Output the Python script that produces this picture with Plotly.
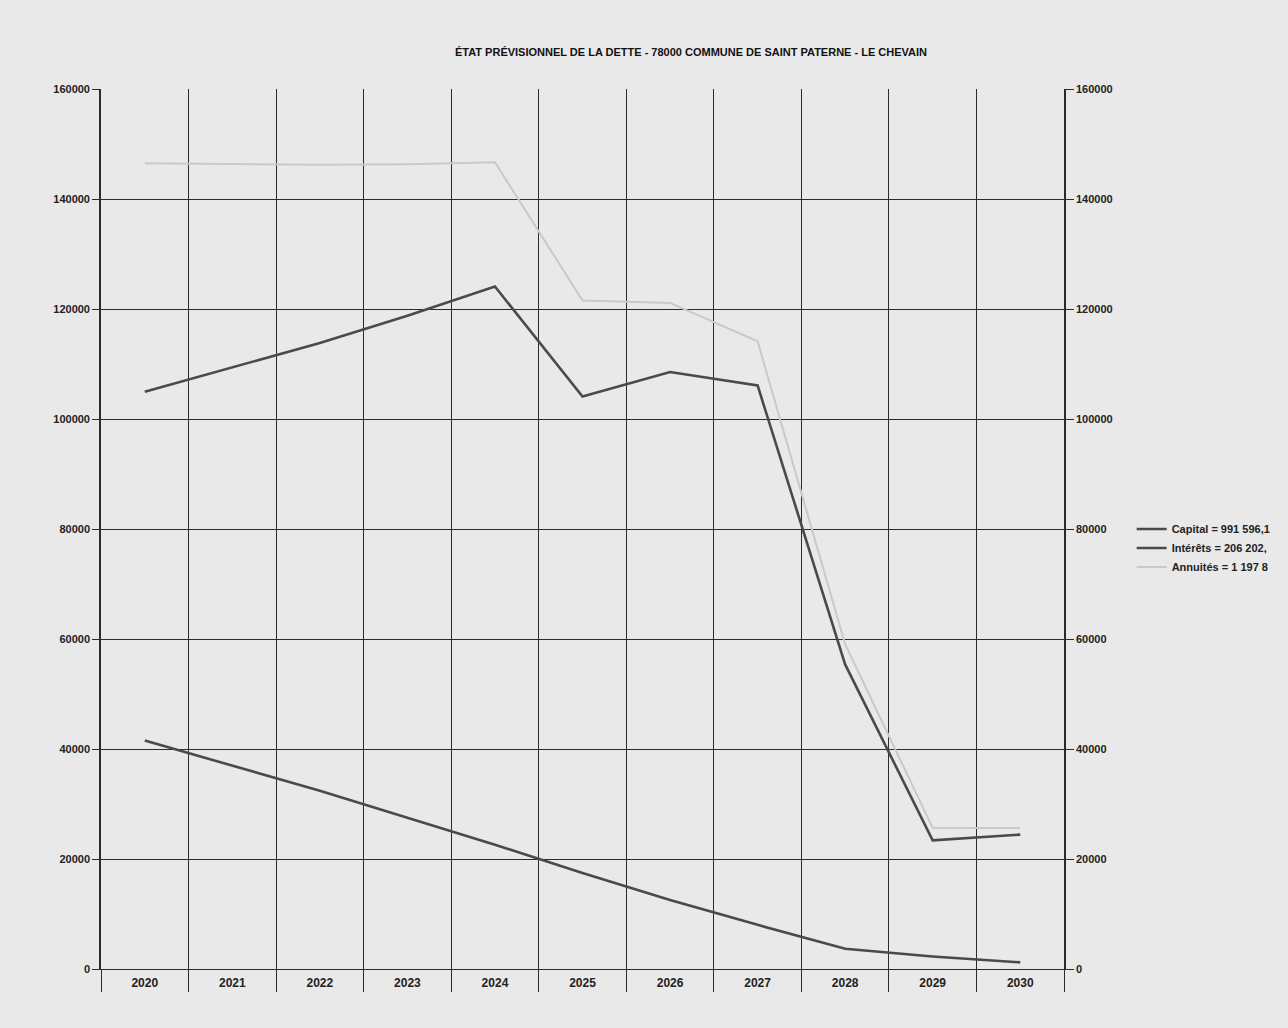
import plotly.graph_objects as go

years = ["2020", "2021", "2022", "2023", "2024", "2025", "2026", "2027", "2028", "2029", "2030"]
capital = [104940, 109350, 113840, 118780, 124080, 104080, 108550, 106100, 55380, 23390, 24430]
interets = [41550, 37040, 32400, 27520, 22590, 17470, 12560, 8030, 3670, 2270, 1210]
annuites = [146490, 146390, 146240, 146300, 146670, 121550, 121110, 114130, 59050, 25660, 25640]

legend_names = ["Capital = 991 596,1", "Intérêts = 206 202,", "Annuités = 1 197 8"]
title_text = "ÉTAT PRÉVISIONNEL DE LA DETTE - 78000 COMMUNE DE SAINT PATERNE - LE CHEVAIN"
y_ticks = [0, 20000, 40000, 60000, 80000, 100000, 120000, 140000, 160000]

BG = "#e9e9e9"
GRID = "#2b2b2b"
DARK = "#4a4a4a"
LIGHT = "#c9c9c9"
FONT = "Liberation Sans Narrow, Arial Narrow, Liberation Sans, Arial"

fig = go.Figure()
fig.add_trace(go.Scatter(x=years, y=capital, mode="lines", name=legend_names[0],
                         line=dict(color=DARK, width=2.6)))
fig.add_trace(go.Scatter(x=years, y=interets, mode="lines", name=legend_names[1],
                         line=dict(color=DARK, width=2.6)))
fig.add_trace(go.Scatter(x=years, y=annuites, mode="lines", name=legend_names[2],
                         line=dict(color=LIGHT, width=2)))
# invisible trace to carry the right-hand axis
fig.add_trace(go.Scatter(x=years, y=capital, yaxis="y2", mode="lines",
                         line=dict(width=0, color="rgba(0,0,0,0)"),
                         showlegend=False, hoverinfo="skip"))

axis_font = dict(family=FONT, size=11, color="#222222", weight="bold")

fig.update_layout(
    width=1288, height=1028,
    paper_bgcolor=BG, plot_bgcolor=BG,
    margin=dict(l=101, r=205, t=89, b=59),
    title=dict(text="<b>" + title_text + "</b>", x=691 / 1288, xanchor="center",
               y=1 - 52 / 1028, yanchor="middle",
               font=dict(family=FONT, size=11, color="#111111")),
    xaxis=dict(type="category", range=[-0.5, len(years) - 0.5],
               tickson="boundaries", ticks="outside", ticklen=22,
               tickcolor=GRID, tickwidth=1.2,
               showgrid=True, gridcolor=GRID, gridwidth=1.2,
               showline=True, linecolor=GRID, linewidth=1.2, mirror=False,
               tickfont=dict(family=FONT, size=12, color="#222222", weight="bold"),
               ticklabelstandoff=2, zeroline=False),
    yaxis=dict(range=[0, 160000], tickvals=y_ticks, ticktext=[str(v) for v in y_ticks],
               ticks="outside", ticklen=7, tickcolor=GRID, tickwidth=1.2,
               showgrid=True, gridcolor=GRID, gridwidth=1.2,
               showline=True, linecolor=GRID, linewidth=1.6,
               zeroline=False, tickfont=axis_font),
    yaxis2=dict(range=[0, 160000], tickvals=y_ticks, ticktext=[str(v) for v in y_ticks],
                overlaying="y", side="right", ticks="outside", ticklen=8,
                tickcolor=GRID, tickwidth=1.2, showgrid=False,
                showline=True, linecolor=GRID, linewidth=1.6,
                zeroline=False, tickfont=axis_font),
    legend=dict(x=(1152 - 101) / 982, y=(969 - 548) / 880, xanchor="left", yanchor="middle",
                bgcolor="rgba(0,0,0,0)", font=dict(family=FONT, size=11, color="#222222", weight="bold"),
                itemwidth=30, tracegroupgap=0),
    showlegend=True,
)

fig.write_html("out.html", config={"displayModeBar": False},
               post_script="document.body.style.margin='0';document.body.style.backgroundColor='#e9e9e9';")
